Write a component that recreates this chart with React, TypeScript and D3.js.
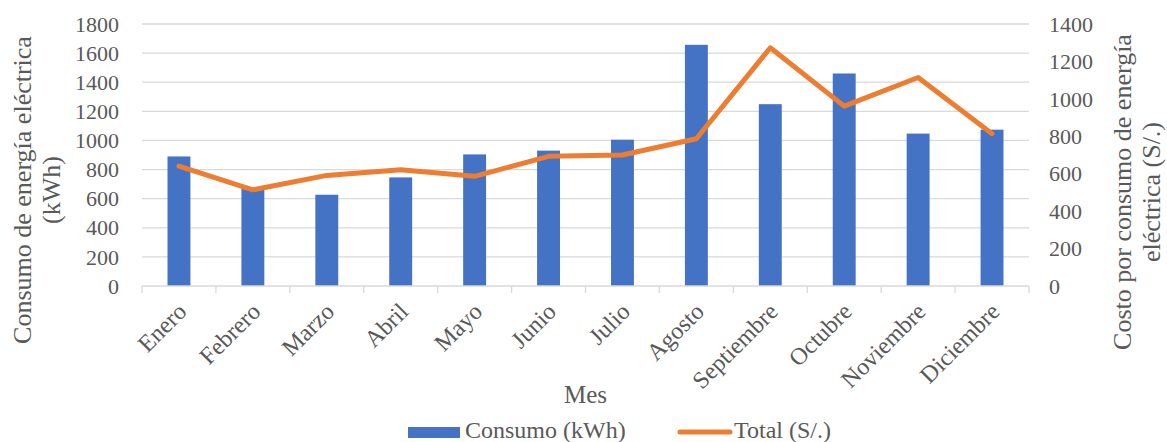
import React, { useEffect, useRef } from 'react';
import * as d3 from 'd3';

const months = ['Enero', 'Febrero', 'Marzo', 'Abril', 'Mayo', 'Junio', 'Julio', 'Agosto', 'Septiembre', 'Octubre', 'Noviembre', 'Diciembre'];
const consumo = [890, 670, 627, 746, 904, 930, 1005, 1657, 1249, 1460, 1047, 1074];
const total = [641, 514, 591, 621, 586, 693, 700, 787, 1273, 961, 1114, 814];
const leftTicks = [0, 200, 400, 600, 800, 1000, 1200, 1400, 1600, 1800];
const rightTicks = [0, 200, 400, 600, 800, 1000, 1200, 1400];

const W = 1167;
const H = 442;
const FONT = "'Liberation Serif', 'Times New Roman', Times, serif";
const TEXT = '#595959';
const GRID = '#d9d9d9';

const App: React.FC = () => {
  const svgRef = useRef<SVGSVGElement>(null);

  useEffect(() => {
    document.body.style.margin = '0';
    if (!svgRef.current) return;
    const svg = d3.select(svgRef.current);
    svg.selectAll('*').remove();

    const left = 142, right = 1029, top = 24, bottom = 286;

    const x = d3.scaleBand().domain(months).range([left, right]);
    const yL = d3.scaleLinear().domain([0, 1800]).range([bottom, top]);
    const yR = d3.scaleLinear().domain([0, 1400]).range([bottom, top]);
    const cx = (m: string) => (x(m) as number) + x.bandwidth() / 2;

    const g = svg.append('g');

    // gridlines
    g.append('g')
      .selectAll('line')
      .data(leftTicks.slice(1))
      .enter().append('line')
      .attr('x1', left).attr('x2', right)
      .attr('y1', d => yL(d)).attr('y2', d => yL(d))
      .attr('stroke', GRID).attr('stroke-width', 1.3);

    // bars
    const bw = x.bandwidth() * 0.31;
    g.append('g')
      .selectAll('rect')
      .data(consumo)
      .enter().append('rect')
      .attr('x', (_, i) => cx(months[i]) - bw / 2)
      .attr('y', d => yL(d))
      .attr('width', bw)
      .attr('height', d => bottom - yL(d))
      .attr('fill', '#4472c4');

    // x axis line + ticks
    g.append('line')
      .attr('x1', left).attr('x2', right)
      .attr('y1', bottom).attr('y2', bottom)
      .attr('stroke', GRID).attr('stroke-width', 1.3);
    g.append('g')
      .selectAll('line')
      .data(d3.range(months.length + 1))
      .enter().append('line')
      .attr('x1', i => left + i * x.step()).attr('x2', i => left + i * x.step())
      .attr('y1', bottom).attr('y2', bottom + 7)
      .attr('stroke', GRID).attr('stroke-width', 1.3);

    // Total line (right axis)
    const line = d3.line<number>()
      .x((_, i) => cx(months[i]))
      .y(d => yR(d));
    g.append('path')
      .datum(total)
      .attr('d', line)
      .attr('fill', 'none')
      .attr('stroke', '#ed7d31')
      .attr('stroke-width', 5)
      .attr('stroke-linejoin', 'round')
      .attr('stroke-linecap', 'round');

    const txt = (sel: d3.Selection<any, any, any, any>, size: number) =>
      sel.style('font-family', FONT).attr('font-size', size).attr('fill', TEXT);

    // left ticks
    txt(g.append('g')
      .selectAll('text')
      .data(leftTicks)
      .enter().append('text')
      .attr('x', left - 23).attr('y', d => yL(d))
      .attr('dy', '0.35em')
      .attr('text-anchor', 'end')
      .text(d => d), 22);

    // right ticks
    txt(g.append('g')
      .selectAll('text')
      .data(rightTicks)
      .enter().append('text')
      .attr('x', right + 20).attr('y', d => yR(d))
      .attr('dy', '0.35em')
      .attr('text-anchor', 'start')
      .text(d => d), 22);

    // x labels
    txt(g.append('g')
      .selectAll('text')
      .data(months)
      .enter().append('text')
      .attr('transform', d => `translate(${cx(d) + 9},${bottom + 27}) rotate(-45)`)
      .attr('text-anchor', 'end')
      .text(d => d), 24);

    // axis titles
    const lt = txt(g.append('text')
      .attr('transform', `translate(31,190) rotate(-90)`)
      .attr('text-anchor', 'middle'), 26);
    lt.append('tspan').attr('x', 0).attr('dy', 0).text('Consumo de energía eléctrica');
    lt.append('tspan').attr('x', 0).attr('dy', 29).text('(kWh)');

    const rt = txt(g.append('text')
      .attr('transform', `translate(1131,192) rotate(-90)`)
      .attr('text-anchor', 'middle'), 26);
    rt.append('tspan').attr('x', 0).attr('dy', 0).text('Costo por consumo de energía');
    rt.append('tspan').attr('x', 0).attr('dy', 29).text('eléctrica (S/.)');

    txt(g.append('text')
      .attr('x', (left + right) / 2).attr('y', 403)
      .attr('text-anchor', 'middle')
      .text('Mes'), 25);

    // legend
    const lg = g.append('g');
    lg.append('rect').attr('x', 408).attr('y', 427).attr('width', 52).attr('height', 11).attr('fill', '#4472c4');
    txt(lg.append('text').attr('x', 465).attr('y', 438).text('Consumo (kWh)'), 24);
    lg.append('line').attr('x1', 680).attr('x2', 730).attr('y1', 432).attr('y2', 432)
      .attr('stroke', '#ed7d31').attr('stroke-width', 5).attr('stroke-linecap', 'round');
    txt(lg.append('text').attr('x', 734).attr('y', 438).text('Total (S/.)'), 24);
  }, []);

  return <svg ref={svgRef} width={W} height={H} style={{ display: 'block', background: '#fff' }} />;
};

export default App;
